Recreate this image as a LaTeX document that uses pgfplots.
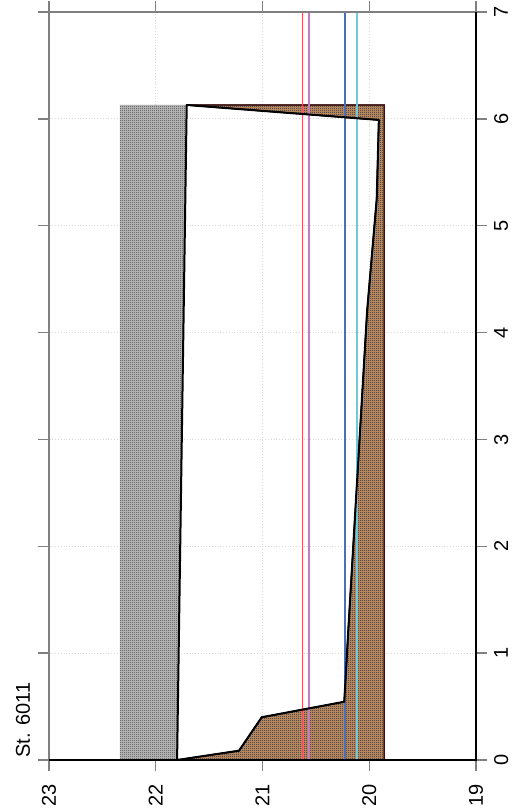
\documentclass[border=0pt]{standalone}
\usepackage{fontspec}
\setmainfont{Liberation Sans}
\usepackage{pgfplots}
\pgfplotsset{compat=1.18}
\usetikzlibrary{patterns}
\pgfdeclarepatternformonly{finecheck}{\pgfpointorigin}{\pgfqpoint{1pt}{1pt}}{\pgfqpoint{1pt}{1pt}}{%
  \pgfpathrectangle{\pgfpointorigin}{\pgfqpoint{0.5pt}{0.5pt}}%
  \pgfpathrectangle{\pgfqpoint{0.5pt}{0.5pt}}{\pgfqpoint{0.5pt}{0.5pt}}%
  \pgfusepath{fill}}
\definecolor{graylight}{HTML}{C4C4C4}
\definecolor{graydark}{HTML}{3C3C3C}
\definecolor{tanc}{HTML}{CC9460}
\definecolor{browndark}{HTML}{2A2222}
\definecolor{edgebrown}{HTML}{3A1414}
\definecolor{lred}{HTML}{F2505C}
\definecolor{lpink}{HTML}{C87CC0}
\definecolor{lblue}{HTML}{4A70B8}
\definecolor{lcyan}{HTML}{70C8D8}
\definecolor{axgray}{HTML}{808080}
\begin{document}
\begin{tikzpicture}
\path[use as bounding box] (-24.5pt,-25.5pt) rectangle (232pt,380pt);
\begin{axis}[at={(0,0)}, anchor=south west, scale only axis,
  width=213.5pt, height=374pt,
  x dir=reverse, xmin=19, xmax=23, ymin=0, ymax=7,
  xtick={19,20,21,22,23}, ytick={0,1,2,3,4,5,6,7},
  tick align=outside, tick pos=both, yticklabel pos=right,
  major tick length=5.5pt,
  tick style={axgray, line width=0.7pt},
  xticklabel style={rotate=90, anchor=east, inner xsep=6.5pt, font=\fontsize{10}{12}\selectfont},
  yticklabel style={rotate=90, anchor=north, font=\fontsize{10}{12}\selectfont},
  /pgf/number format/assume math mode=true,
  grid=major, grid style={densely dotted, gray!30, line width=0.4pt},
  axis line style={draw=none},
]
% gray region
\addplot[draw=none, fill=graylight, postaction={pattern=finecheck, pattern color=graydark}]
  coordinates {(22.335,0) (21.80,0) (21.71,6.13) (22.335,6.13)} -- cycle;
% brown region
\addplot[draw=edgebrown, line width=0.6pt, fill=tanc, postaction={pattern=finecheck, pattern color=browndark}]
  coordinates {(21.80,0) (21.22,0.087) (21.007,0.40) (20.234,0.545) (20.20,1.15) (20.02,4.2) (19.93,5.25) (19.91,5.99) (21.71,6.13) (19.86,6.13) (19.86,0)} -- cycle;
% vertical lines
\addplot[lred, line width=0.8pt] coordinates {(20.624,0) (20.624,7)};
\addplot[lpink, line width=0.8pt] coordinates {(20.564,0) (20.564,7)};
\addplot[lblue, line width=0.9pt] coordinates {(20.227,0) (20.227,7)};
\addplot[lcyan, line width=0.7pt] coordinates {(20.115,0) (20.115,7)};
% profile
\addplot[black, line width=1pt, line join=round] coordinates {(21.80,0) (21.22,0.087) (21.007,0.40) (20.234,0.545) (20.20,1.15) (20.02,4.2) (19.93,5.25) (19.91,5.99) (21.71,6.13) (21.80,0)};
\end{axis}
\draw[axgray, line width=0.8pt] (0,0) -- (0,374pt) -- (213.5pt,374pt);
\draw[black, line width=0.8pt] (0,0) -- (213.5pt,0) -- (213.5pt,374pt);
\node[rotate=90, anchor=base west, inner sep=0, font=\fontsize{10}{12}\selectfont] at (-9.5pt,1pt) {St. 6011};
\end{tikzpicture}
\end{document}
